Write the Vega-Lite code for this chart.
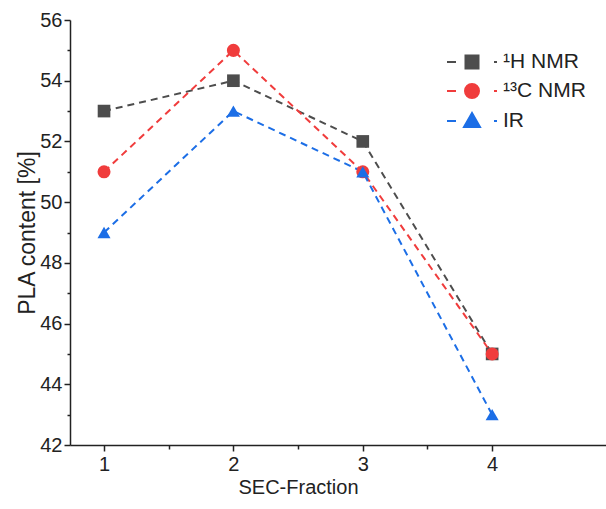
{
  "$schema": "https://vega.github.io/schema/vega-lite/v6.json",
  "width": 536,
  "height": 425,
  "autosize": {"type": "none"},
  "padding": {"left": 70, "top": 20, "right": 0, "bottom": 64},
  "background": "white",
  "config": {"view": {"stroke": null}, "font": "Liberation Sans"},
  "data": {
    "values": [
      {"series": "¹H NMR", "fraction": 1, "value": 53},
      {"series": "¹H NMR", "fraction": 2, "value": 54},
      {"series": "¹H NMR", "fraction": 3, "value": 52},
      {"series": "¹H NMR", "fraction": 4, "value": 45},
      {"series": "¹³C NMR", "fraction": 1, "value": 51},
      {"series": "¹³C NMR", "fraction": 2, "value": 55},
      {"series": "¹³C NMR", "fraction": 3, "value": 51},
      {"series": "¹³C NMR", "fraction": 4, "value": 45},
      {"series": "IR", "fraction": 1, "value": 49},
      {"series": "IR", "fraction": 2, "value": 53},
      {"series": "IR", "fraction": 3, "value": 51},
      {"series": "IR", "fraction": 4, "value": 43}
    ]
  },
  "encoding": {
    "x": {
      "field": "fraction", "type": "quantitative",
      "scale": {"domain": [0.737, 4.88], "nice": false, "zero": false},
      "axis": {
        "values": [1, 1.5, 2, 2.5, 3, 3.5, 4],
        "labelExpr": "datum.value % 1 === 0 ? format(datum.value, 'd') : ''",
        "tickSize": {"condition": {"test": "datum.value % 1 !== 0", "value": 4}, "value": 6},
        "grid": false,
        "domainColor": "#222", "tickColor": "#222", "domainWidth": 1.5, "tickWidth": 1.5,
        "labelFontSize": 20, "labelColor": "#222", "labelPadding": 3, "labelFont": "Liberation Sans",
        "title": "SEC-Fraction", "titleFontSize": 20, "titleFontWeight": "normal", "titleColor": "#222",
        "titleFont": "Liberation Sans", "titleX": 228, "titlePadding": 3
      }
    },
    "y": {
      "field": "value", "type": "quantitative",
      "scale": {"domain": [42, 56], "nice": false, "zero": false},
      "axis": {
        "values": [42, 43, 44, 45, 46, 47, 48, 49, 50, 51, 52, 53, 54, 55, 56],
        "labelExpr": "datum.value % 2 === 0 ? datum.label : ''",
        "tickSize": {"condition": {"test": "datum.value % 2 !== 0", "value": 3}, "value": 6},
        "grid": false,
        "domainColor": "#222", "tickColor": "#222", "domainWidth": 1.5, "tickWidth": 1.5,
        "labelFontSize": 20, "labelColor": "#222", "labelPadding": 2, "labelFont": "Liberation Sans",
        "title": "PLA content [%]", "titleFontSize": 23, "titleFontWeight": "normal", "titleColor": "#222",
        "titleFont": "Liberation Sans", "titlePadding": 0
      }
    },
    "color": {
      "field": "series", "type": "nominal",
      "scale": {"domain": ["¹H NMR", "¹³C NMR", "IR"], "range": ["#4d4d4d", "#f03c3c", "#1c6ee6"]},
      "legend": {
        "title": null, "orient": "none", "legendX": 391, "legendY": 31,
        "symbolSize": 400, "symbolStrokeWidth": 2, "symbolDash": [],
        "labelFontSize": 21, "labelFont": "Liberation Sans", "labelColor": "#222",
        "labelOffset": 20, "rowPadding": 7
      }
    }
  },
  "layer": [
    {"mark": {"type": "line", "strokeDash": [7, 5], "strokeWidth": 2}},
    {
      "transform": [{"filter": "datum.series === '¹H NMR'"}],
      "mark": {"type": "point", "shape": "square", "filled": true, "size": 160, "opacity": 1}
    },
    {
      "transform": [{"filter": "datum.series === '¹³C NMR'"}],
      "mark": {"type": "point", "shape": "circle", "filled": true, "size": 170, "opacity": 1}
    },
    {
      "transform": [{"filter": "datum.series === 'IR'"}],
      "mark": {"type": "point", "shape": "triangle-up", "filled": true, "size": 170, "opacity": 1}
    },
    {
      "transform": [{"filter": "false"}],
      "mark": {"type": "point", "filled": true, "opacity": 1, "strokeWidth": 2},
      "encoding": {
        "shape": {
          "field": "series", "type": "nominal",
          "scale": {
            "domain": ["¹H NMR", "¹³C NMR", "IR"],
            "range": [
              "M-2.5,0H-1.6M2.2,0H2.5M-0.65,-0.65H0.65V0.65H-0.65Z",
              "M-2.5,0H-1.6M2.2,0H2.5M0.7,0A0.7,0.7 0 1,1 -0.7,0A0.7,0.7 0 1,1 0.7,0Z",
              "M-2.5,0H-1.6M2.2,0H2.5M0,-0.8L0.8,0.6L-0.8,0.6Z"
            ]
          },
          "legend": {
            "title": null, "orient": "none", "legendX": 391, "legendY": 31,
            "symbolSize": 400, "symbolStrokeWidth": 2, "symbolDash": [],
            "labelFontSize": 21, "labelFont": "Liberation Sans", "labelColor": "#222",
            "labelOffset": 20, "rowPadding": 7
          }
        },
        "stroke": {
          "field": "series", "type": "nominal",
          "scale": {"domain": ["¹H NMR", "¹³C NMR", "IR"], "range": ["#4d4d4d", "#f03c3c", "#1c6ee6"]},
          "legend": {
            "title": null, "orient": "none", "legendX": 391, "legendY": 31,
            "symbolSize": 400, "symbolStrokeWidth": 2, "symbolDash": [],
            "labelFontSize": 21, "labelFont": "Liberation Sans", "labelColor": "#222",
            "labelOffset": 20, "rowPadding": 7
          }
        }
      }
    }
  ]
}
